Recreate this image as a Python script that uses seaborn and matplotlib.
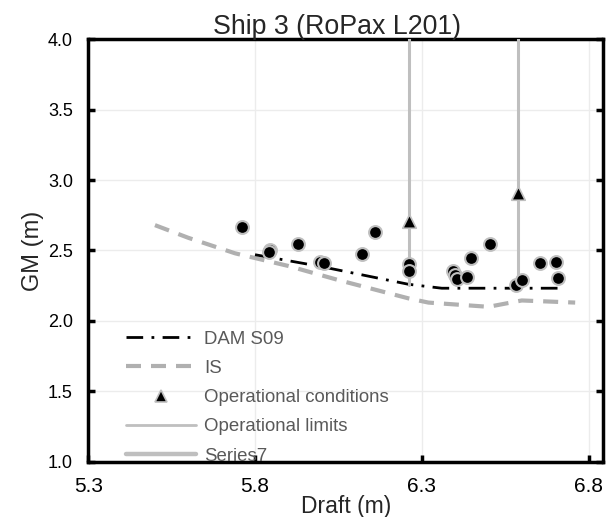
import matplotlib
matplotlib.use('Agg')
import matplotlib.pyplot as plt
import seaborn as sns
from matplotlib.lines import Line2D

# --- data ---
dam_draft = [5.80, 6.00, 6.26, 6.36, 6.71]
dam_gm = [2.47, 2.385, 2.26, 2.232, 2.232]

is_draft = [5.50, 5.60, 5.74, 5.90, 6.05, 6.26, 6.32, 6.50, 6.60, 6.76]
is_gm = [2.68, 2.59, 2.48, 2.39, 2.29, 2.16, 2.13, 2.10, 2.145, 2.13]

pts_draft = [5.761, 5.846, 5.841, 5.928, 5.996, 6.008, 6.122, 6.160, 6.263, 6.263,
             6.395, 6.400, 6.405, 6.435, 6.448, 6.505, 6.582, 6.601, 6.656, 6.701, 6.707]
pts_gm = [2.665, 2.504, 2.490, 2.546, 2.420, 2.409, 2.473, 2.634, 2.402, 2.354,
          2.354, 2.325, 2.300, 2.314, 2.445, 2.544, 2.255, 2.290, 2.413, 2.420, 2.303]

op_draft = [6.262, 6.589]
op_gm = [2.711, 2.911]

limit_low = [2.258, 2.225]
limit_high = [5.0, 5.0]

x_ticks = [5.3, 5.8, 6.3, 6.8]
y_ticks = [1.0, 1.5, 2.0, 2.5, 3.0, 3.5, 4.0]

# --- style ---
sns.set_theme(style="white")
plt.rcParams['font.family'] = ['Liberation Sans', 'DejaVu Sans']

GRAY_LINE = '#bfbfbf'
IS_GRAY = '#b0b0b0'
LEG_TXT = '#595959'

fig, ax = plt.subplots(figsize=(6.13, 5.17), dpi=100)
fig.subplots_adjust(left=0.144, right=0.984, top=0.924, bottom=0.107)

# IS curve
sns.lineplot(x=is_draft, y=is_gm, ax=ax, color=IS_GRAY, lw=3,
             sort=False, estimator=None, zorder=2)
ax.lines[-1].set_dashes((3.6, 2.4))

# DAM S09
sns.lineplot(x=dam_draft, y=dam_gm, ax=ax, color='black', lw=2,
             sort=False, estimator=None, zorder=3)
ax.lines[-1].set_dashes((6, 3, 1, 3))

# operational limits (vertical lines)
for xd, lo, hi in zip(op_draft, limit_low, limit_high):
    sns.lineplot(x=[xd, xd], y=[lo, hi], ax=ax, color=GRAY_LINE, lw=2.2,
                 sort=False, estimator=None, zorder=4)

# loading conditions
sns.scatterplot(x=pts_draft, y=pts_gm, ax=ax, color='black', s=85,
                edgecolor=GRAY_LINE, linewidth=1.5, zorder=5)

# operational conditions
sns.scatterplot(x=op_draft, y=op_gm, ax=ax, color='black', marker='^', s=95,
                edgecolor=GRAY_LINE, linewidth=1.2, zorder=6)

ax.set_xlim(5.3, 6.844)
ax.set_ylim(1.0, 4.0)
ax.set_xticks(x_ticks)
ax.set_xticklabels([f"{v:.1f}" for v in x_ticks], fontsize=15)
ax.set_yticks(y_ticks)
ax.set_yticklabels([f"{v:.1f}" for v in y_ticks], fontsize=13)
ax.grid(True, color='#ececec', lw=1)

for s in ax.spines.values():
    s.set_color('black')
    s.set_linewidth(2.5)

ax.tick_params(axis='x', direction='in', length=5, width=2.5, bottom=True, top=False,
               pad=11, colors='black')
ax.tick_params(axis='y', direction='in', length=5, width=2.5, left=True, right=True,
               pad=11, colors='black')

ax.set_title("Ship 3 (RoPax L201)", fontsize=19.3, pad=4, x=0.484)
ax.set_xlabel("Draft (m)", fontsize=16.5, labelpad=-1)
ax.set_ylabel("GM (m)", fontsize=17, labelpad=3)

handles = [
    Line2D([], [], color='black', lw=2, dashes=(6, 3, 1, 3)),
    Line2D([], [], color=IS_GRAY, lw=3, dashes=(3.6, 2.4)),
    Line2D([], [], color='black', marker='^', ls='none', markersize=8,
           markeredgecolor=GRAY_LINE, markeredgewidth=1.2),
    Line2D([], [], color=GRAY_LINE, lw=2),
    Line2D([], [], color=GRAY_LINE, lw=3.2),
]
labels = ["DAM S09", "IS", "Operational conditions", "Operational limits", "Series7"]
leg = ax.legend(handles, labels, loc='lower left', bbox_to_anchor=(0.04, -0.047),
                frameon=False, fontsize=13.4, handlelength=3.8, handletextpad=0.4,
                labelspacing=0.66, labelcolor=LEG_TXT)

fig.savefig("out.png", dpi=100)
